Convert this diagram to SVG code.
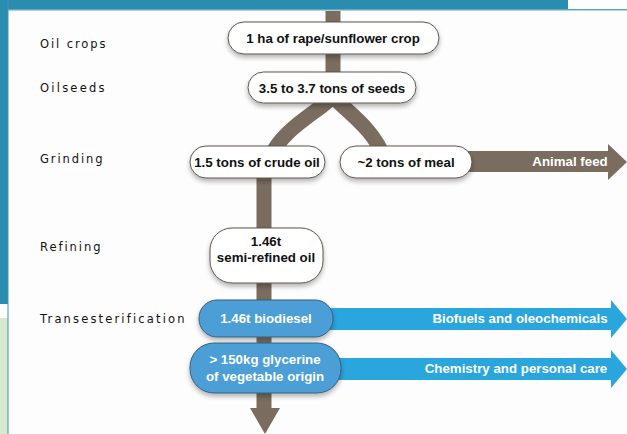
<svg xmlns="http://www.w3.org/2000/svg" width="627" height="434" viewBox="0 0 627 434">
  <defs>
    <filter id="shadow" x="-10%" y="-20%" width="120%" height="160%">
      <feGaussianBlur in="SourceAlpha" stdDeviation="2.5"/>
      <feOffset dx="0" dy="3" result="b"/>
      <feComponentTransfer><feFuncA type="linear" slope="0.3"/></feComponentTransfer>
      <feMerge><feMergeNode/><feMergeNode in="SourceGraphic"/></feMerge>
    </filter>
  </defs>
  <style>
    .stage { font-family: "DejaVu Sans", "Liberation Sans", sans-serif; font-size: 11.5px; fill: #111; letter-spacing: 1.5px; }
    .pill { fill: #ffffff; stroke: #5e554c; stroke-width: 1; filter: url(#shadow); }
    .bpill { fill: #4b9ed6; stroke: #3b6079; stroke-width: 1; filter: url(#shadow); }
    .t { font-family: "Liberation Sans", Arial, sans-serif; font-weight: bold; font-size: 13.3px; fill: #111; text-anchor: middle; }
    .tw { font-family: "Liberation Sans", Arial, sans-serif; font-weight: bold; font-size: 13.3px; fill: #ffffff; text-anchor: middle; }
    .flow { fill: none; stroke: #7a6d5f; stroke-width: 15; }
    .brown { fill: #7a6d5f; }
    .blue { fill: #2aa6de; }
  </style>

  <!-- page frame -->
  <rect x="0" y="0" width="627" height="434" fill="#fdfdfd"/>
  <rect x="0" y="0" width="568" height="9" fill="#2a8db0"/>
  <rect x="0" y="9" width="627" height="1.5" fill="#5aa9c4"/>
  <rect x="0" y="0" width="8" height="304" fill="#2a8db0"/>
  <rect x="0" y="318" width="8" height="116" fill="#d6e9cf"/>
  <rect x="7.5" y="0" width="1" height="434" fill="#3f95b3"/>

  <!-- stage labels -->
  <g id="stages">
    <text class="stage" x="40" y="48" textLength="67">Oil crops</text>
    <text class="stage" x="40" y="92" textLength="66">Oilseeds</text>
    <text class="stage" x="40" y="163" textLength="64">Grinding</text>
    <text class="stage" x="40" y="251" textLength="62">Refining</text>
    <text class="stage" x="40" y="323" textLength="146">Transesterification</text>
  </g>

  <!-- connectors -->
  <g id="connectors">
    <line class="flow" x1="333" y1="11" x2="333" y2="100"/>
    <!-- fork from seeds into oil and meal -->
    <path class="flow" d="M333 96 C322 110 282 128 270 158"/>
    <path class="flow" d="M333 96 C344 110 374 128 384 158"/>
    <line class="flow" x1="264" y1="165" x2="264" y2="410"/>
    <polygon class="brown" points="250,408 280,408 265,434"/>
    <!-- animal feed arrow -->
    <polygon class="brown" points="440,151 608,151 608,144 627,162 608,180 608,172 440,172"/>
    <text class="tw" x="570" y="166">Animal feed</text>
    <!-- biofuels arrow -->
    <polygon class="blue" points="320,308 611,308 611,300 627,319 611,338 611,330 320,330"/>
    <text class="tw" x="520" y="323">Biofuels and oleochemicals</text>
    <!-- chemistry arrow -->
    <polygon class="blue" points="330,358 611,358 611,350 627,369 611,388 611,380 330,380"/>
    <text class="tw" x="516" y="373">Chemistry and personal care</text>
  </g>

  <!-- nodes -->
  <g id="crop">
    <rect class="pill" x="228" y="22" width="211" height="32" rx="16"/>
    <text class="t" x="333" y="43">1 ha of rape/sunflower crop</text>
  </g>
  <g id="seeds">
    <rect class="pill" x="248" y="72" width="168" height="31" rx="15.5"/>
    <text class="t" x="332" y="93">3.5 to 3.7 tons of seeds</text>
  </g>
  <g id="crude-oil">
    <rect class="pill" x="190" y="146" width="135" height="32" rx="16"/>
    <text class="t" x="257" y="167">1.5 tons of crude oil</text>
  </g>
  <g id="meal">
    <rect class="pill" x="340" y="146" width="132" height="32" rx="16"/>
    <text class="t" x="406" y="167">~2 tons of meal</text>
  </g>
  <g id="refined-oil">
    <rect class="pill" x="210" y="228" width="113" height="55" rx="22"/>
    <text class="t" x="266" y="246">1.46t</text>
    <text class="t" x="266" y="262">semi-refined oil</text>
  </g>
  <g id="biodiesel">
    <rect class="bpill" x="199" y="300" width="134" height="37" rx="18"/>
    <text class="tw" x="266" y="323">1.46t biodiesel</text>
  </g>
  <g id="glycerine">
    <rect class="bpill" x="190" y="343" width="151" height="50" rx="24"/>
    <text class="tw" x="265" y="364">&gt; 150kg glycerine</text>
    <text class="tw" x="265" y="381">of vegetable origin</text>
  </g>
</svg>
